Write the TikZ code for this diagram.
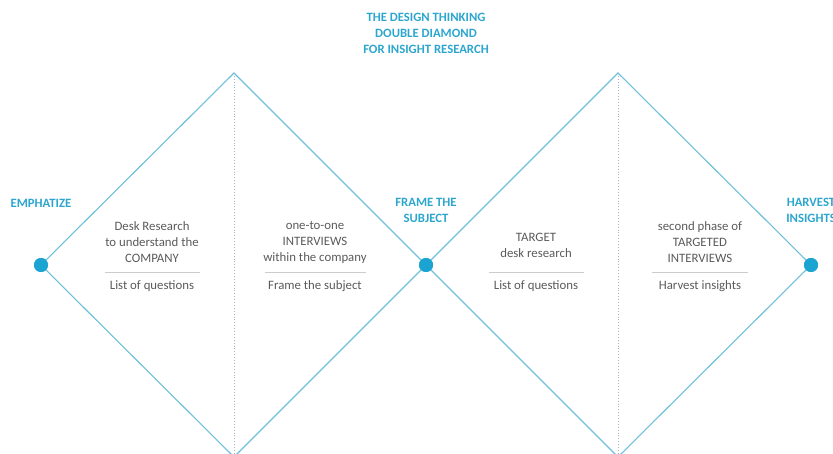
\documentclass[tikz,border=0pt]{standalone}
\usepackage{fontspec}
\setmainfont{Carlito}
\definecolor{dline}{HTML}{6DBFDA}
\definecolor{ddot}{HTML}{1BA3D2}
\definecolor{dtitle}{HTML}{2CA6CE}
\definecolor{dtext}{HTML}{5A5A5A}
\definecolor{dsep}{HTML}{CCCCCC}
\definecolor{dvert}{HTML}{9FB8C4}
\tikzset{
  diam/.style={draw=dline, line width=1.1pt},
  vdots/.style={draw=dvert, dotted, line width=0.9pt},
  dotnode/.style={circle, fill=ddot, minimum size=14pt, inner sep=0pt},
  phase/.style={font=\fontsize{12.7}{16}\selectfont\bfseries, text=dtitle, align=center, inner sep=0pt},
  body/.style={font=\fontsize{12.8}{16}\selectfont, text=dtext, align=center, inner sep=0pt},
  sep/.style={draw=dsep, line width=0.8pt}
}
\begin{document}
\begin{tikzpicture}[x=1pt,y=-1pt]
\useasboundingbox (0,0) rectangle (833,454);
\clip (0,0) rectangle (833,454);
% vertices
\coordinate (T1) at (234,73);
\coordinate (B1) at (234,457);
\coordinate (T2) at (618,73);
\coordinate (B2) at (618,457);
\node[dotnode] (D1) at (41,265) {};
\node[dotnode] (D2) at (426,265) {};
\node[dotnode] (D3) at (811,265) {};
% diamonds
\draw[diam] (D1.center) -- (T1) -- (D2.center) -- (B1) -- cycle;
\draw[diam] (D2.center) -- (T2) -- (D3.center) -- (B2) -- cycle;
\draw[vdots] (T1) -- (B1);
\draw[vdots] (T2) -- (B2);
\node[dotnode] at (D1) {};
\node[dotnode] at (D2) {};
\node[dotnode] at (D3) {};
% title
\node[phase] (title) at (426,33) {THE DESIGN THINKING\\DOUBLE DIAMOND\\FOR INSIGHT RESEARCH};
% phase labels
\node[phase] (l1) at (41,203) {EMPHATIZE};
\node[phase] (l2) at (426,210.5) {FRAME THE\\SUBJECT};
\node[phase] (l3) at (811,210.5) {HARVEST\\INSIGHTS};
% column 1
\node[body] (c1) at (152,242) {Desk Research\\to understand the\\COMPANY};
\draw[sep] (105,272) -- (200,272);
\node[body] (c1b) at (152,286) {List of questions};
% column 2
\node[body] (c2) at (315,242) {one-to-one\\INTERVIEWS\\within the company};
\draw[sep] (265,272) -- (366,272);
\node[body] (c2b) at (315,286) {Frame the subject};
% column 3
\node[body] (c3) at (536,245) {TARGET\\desk research};
\draw[sep] (489,272) -- (584,272);
\node[body] (c3b) at (536,286) {List of questions};
% column 4
\node[body] (c4) at (700,242) {second phase of\\TARGETED\\INTERVIEWS};
\draw[sep] (652,272) -- (748,272);
\node[body] (c4b) at (700,286) {Harvest insights};
\end{tikzpicture}
\end{document}
